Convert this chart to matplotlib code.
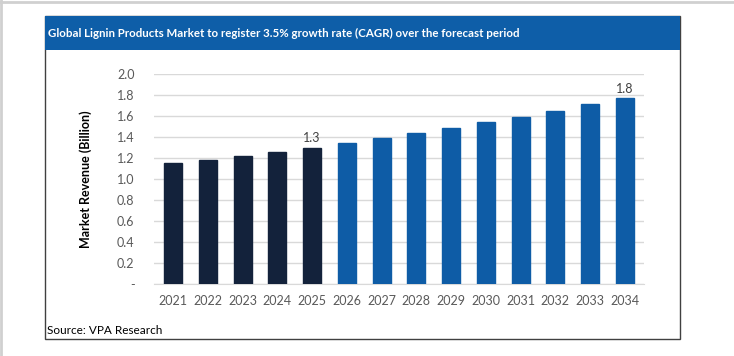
import matplotlib.pyplot as plt
from matplotlib.patches import Rectangle
from matplotlib.lines import Line2D

plt.rcParams['font.family'] = ['Lato', 'DejaVu Sans']

years = ['2021', '2022', '2023', '2024', '2025', '2026', '2027',
         '2028', '2029', '2030', '2031', '2032', '2033', '2034']
revenue = [1.15, 1.18, 1.22, 1.26, 1.30, 1.34, 1.39,
           1.44, 1.49, 1.54, 1.59, 1.65, 1.71, 1.77]
labels = {'2025': '1.3', '2034': '1.8'}
yticks = [0, 0.2, 0.4, 0.6, 0.8, 1.0, 1.2, 1.4, 1.6, 1.8, 2.0]
ytick_labels = ['-', '0.2', '0.4', '0.6', '0.8', '1.0', '1.2', '1.4', '1.6', '1.8', '2.0']

W, H = 734, 356
fig = plt.figure(figsize=(W / 100, H / 100), dpi=100)

# outer light border (top / left)
fig.add_artist(Line2D([0, 1], [1 - 1.5 / H, 1 - 1.5 / H], color='#d0d0d0', lw=2))
fig.add_artist(Line2D([1.5 / W, 1.5 / W], [0, 1], color='#d0d0d0', lw=2))

# chart box
bx0, bx1, by0, by1 = 45, 680, 16, 339
fig.add_artist(Rectangle((bx0 / W, 1 - by1 / H), (bx1 - bx0) / W, (by1 - by0) / H,
                         facecolor='white', edgecolor='#404040', lw=1, zorder=-2))
fig.add_artist(Rectangle((bx0 / W, 1 - 50 / H), (bx1 - bx0) / W, 34 / H,
                         facecolor='#0e5ea8', edgecolor='none', zorder=-1))
fig.text(48 / W, 1 - 33 / H,
         'Global Lignin Products Market to register 3.5% growth rate (CAGR) over the forecast period',
         color='white', fontsize=8.3, fontweight='bold', va='center', ha='left')
fig.text(47 / W, 1 - 331 / H, 'Source: VPA Research', color='black',
         fontsize=8.5, va='center', ha='left')

ax = fig.add_axes([154 / W, 1 - 284 / H, (644 - 154) / W, (284 - 74) / H])
ax.patch.set_alpha(0)
colors = ['#13223b' if int(y) <= 2025 else '#0e5ca6' for y in years]
x = range(len(years))
ax.bar(x, revenue, width=0.52, color=colors, edgecolor=colors, zorder=3)
for i, y in enumerate(years):
    if y in labels:
        ax.text(i, revenue[i] + 0.03, labels[y], ha='center', va='bottom',
                fontsize=9, color='#404040')

ax.set_ylim(0, 2.0)
ax.set_xlim(-0.55, len(years) - 0.45)
ax.set_yticks(yticks)
ax.set_yticklabels(ytick_labels)
ax.set_xticks(list(x))
ax.set_xticklabels(years)
ax.tick_params(axis='both', length=0, colors='#595959', labelsize=9)
ax.tick_params(axis='y', pad=14)
ax.tick_params(axis='x', pad=8)
ax.yaxis.grid(True, color='#d9d9d9', lw=1, zorder=0)
for s in ['top', 'right', 'left']:
    ax.spines[s].set_visible(False)
ax.spines['bottom'].set_color('#d9d9d9')
ax.set_ylabel('Market Revenue (Billion)', fontsize=9, fontweight='bold',
              color='black', labelpad=18)

fig.savefig('out.png', dpi=100)
